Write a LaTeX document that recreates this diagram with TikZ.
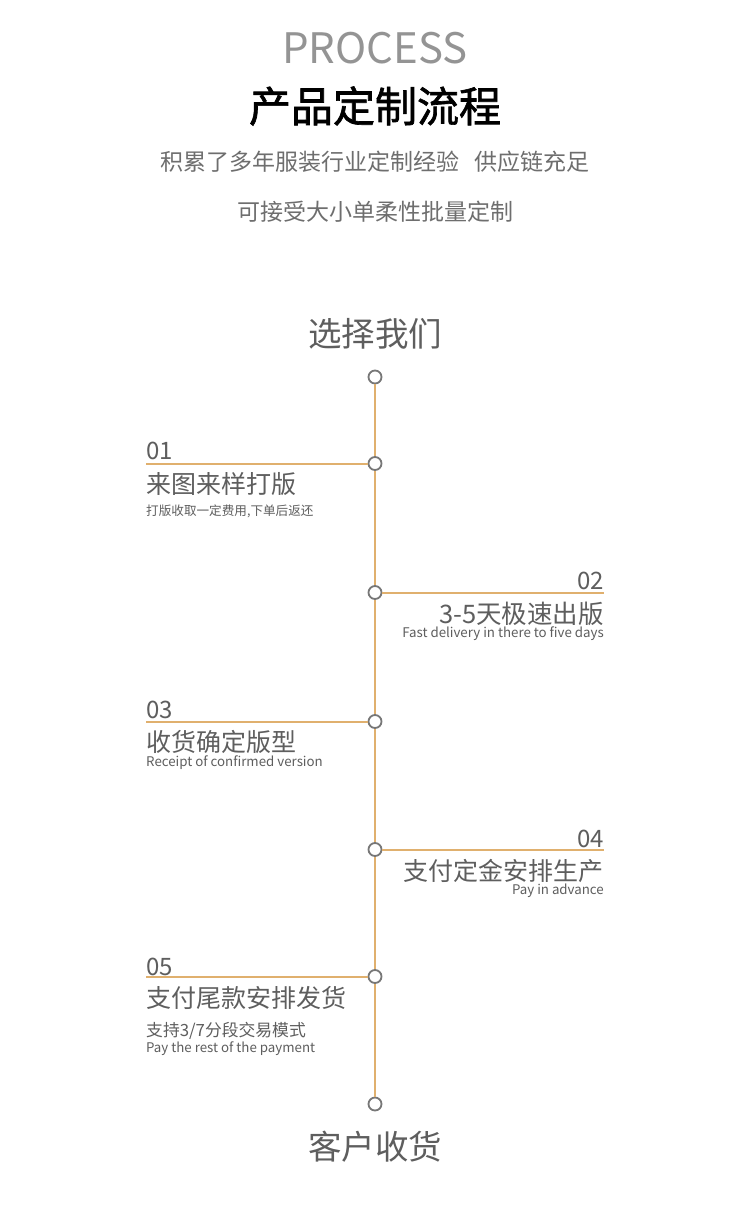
\documentclass[tikz,border=0pt]{standalone}
\usepackage{fontspec}
\setmainfont{Noto Sans CJK SC}
\newfontfamily\titlefont[FakeBold=1.6]{Noto Sans CJK SC}
\definecolor{lineor}{HTML}{E0B06E}
\definecolor{dotgray}{HTML}{777777}
\definecolor{txtgray}{HTML}{5E5E5E}
\definecolor{subgray}{HTML}{6E6E6E}
\definecolor{procgray}{HTML}{949494}
\newcommand{\fs}[1]{\fontsize{#1}{#1}\selectfont}
\tikzset{
  ln/.style={draw=lineor, line width=2pt},
  dot/.style={circle, draw=dotgray, fill=white, line width=1.8pt, minimum size=13pt, inner sep=0pt},
  txt/.style={inner sep=0pt, text=txtgray},
  lt/.style={txt, anchor=base west},
  rt/.style={txt, anchor=base east},
  ct/.style={txt, anchor=base},
}
\begin{document}
\begin{tikzpicture}[x=1pt,y=-1pt]
\path[use as bounding box, fill=white] (0,0) rectangle (750,1222);
% header
\node[ct, text=procgray] (proc) at (375,64) {\fs{42}PROCESS};
\node[ct, text=black] (title) at (375,122) {\fs{42}\titlefont 产品定制流程};
\node[ct, text=subgray] (sub1) at (375,170.5) {\fs{23}积累了多年服装行业定制经验\hspace{0.65em}供应链充足};
\node[ct, text=subgray] (sub2) at (375,221) {\fs{23}可接受大小单柔性批量定制};
\node[ct] (start) at (375,346.5) {\fs{33.5}选择我们};
\node[ct] (end) at (375,1159) {\fs{33.5}客户收货};
% timeline
\node[dot] (c0) at (375,377) {};
\node[dot] (c1) at (375,463.5) {};
\node[dot] (c2) at (375,592.5) {};
\node[dot] (c3) at (375,721.5) {};
\node[dot] (c4) at (375,849.5) {};
\node[dot] (c5) at (375,976.5) {};
\node[dot] (c6) at (375,1104) {};
\draw[ln] (c0) -- (c1) -- (c2) -- (c3) -- (c4) -- (c5) -- (c6);
\coordinate (e1) at (146,463.5);
\coordinate (e2) at (604,592.5);
\coordinate (e3) at (146,721.5);
\coordinate (e4) at (604,849.5);
\coordinate (e5) at (146,976.5);
\draw[ln] (c1) -- (e1);
\draw[ln] (c2) -- (e2);
\draw[ln] (c3) -- (e3);
\draw[ln] (c4) -- (e4);
\draw[ln] (c5) -- (e5);
% 01
\node[lt] (n1) at (146,459.5) {\fs{24}01};
\node[lt] (t1) at (146,493.5) {\fs{25}来图来样打版};
\node[lt] (s1) at (146,515.5) {\fs{12.6}打版收取一定费用,下单后返还};
% 02
\node[rt] (n2) at (604,589) {\fs{24}02};
\node[rt] (t2) at (604,623) {\fs{25.5}3-5天极速出版};
\node[rt] (s2) at (604,637) {\fs{13.3}Fast delivery in there to five days};
% 03
\node[lt] (n3) at (146,718) {\fs{24}03};
\node[lt] (t3) at (146,751) {\fs{25}收货确定版型};
\node[lt] (s3) at (146,766) {\fs{13.3}Receipt of confirmed version};
% 04
\node[rt] (n4) at (604,847.5) {\fs{24}04};
\node[rt] (t4) at (604,880) {\fs{25}支付定金安排生产};
\node[rt] (s4) at (604,894) {\fs{13.3}Pay in advance};
% 05
\node[lt] (n5) at (146,975) {\fs{24}05};
\node[lt] (t5) at (146,1007.5) {\fs{25}支付尾款安排发货};
\node[lt] (s5a) at (146,1036) {\fs{16.8}支持3/7分段交易模式};
\node[lt] (s5b) at (146,1052) {\fs{13.3}Pay the rest of the payment};
\end{tikzpicture}
\end{document}
